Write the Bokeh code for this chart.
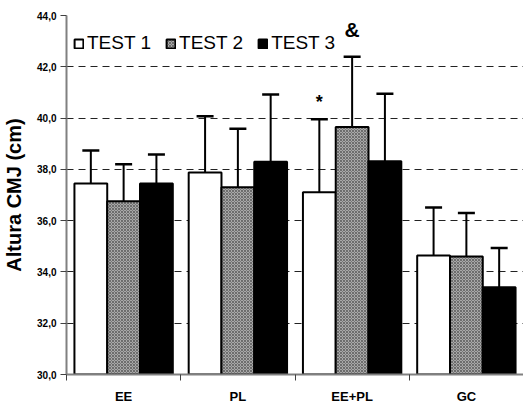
from bokeh.plotting import figure
from bokeh.models import (Range1d, FixedTicker, Whisker, TeeHead, ColumnDataSource,
                          Legend, LegendItem)
from bokeh.embed import file_html
from bokeh.resources import INLINE
from bokeh.core.properties import value

categories = ["EE", "PL", "EE+PL", "GC"]
series = ["TEST 1", "TEST 2", "TEST 3"]
test1 = [37.45, 37.88, 37.11, 34.64]
test2 = [36.76, 37.30, 39.65, 34.60]
test3 = [37.45, 38.30, 38.32, 33.40]
sd1 = [1.29, 2.19, 2.84, 1.87]
sd2 = [1.44, 2.28, 2.74, 1.70]
sd3 = [1.13, 2.62, 2.63, 1.53]
y_ticks = [30, 32, 34, 36, 38, 40, 42, 44]
y_labels = ["30,0", "32,0", "34,0", "36,0", "38,0", "40,0", "42,0", "44,0"]
# significance marks: (category index, series index, symbol)
marks = [(2, 0, "*"), (2, 1, "&")]

FONT = "Liberation Sans"
bw = 0.287
offsets = [-bw, 0.0, bw]

p = figure(width=515, height=397, output_backend="svg", toolbar_location=None,
           x_range=Range1d(0, len(categories)), y_range=Range1d(y_ticks[0], y_ticks[-1]),
           min_border_left=57, min_border_right=2, min_border_top=15, min_border_bottom=22)
p.frame_width = 457
p.frame_height = 359
p.outline_line_color = None
p.background_fill_color = "white"

# grid
p.xgrid.grid_line_color = None
p.ygrid.ticker = FixedTicker(ticks=y_ticks)
p.ygrid.grid_line_color = "#222222"
p.ygrid.grid_line_dash = "7 5"
p.ygrid.grid_line_width = 1

# y axis
p.yaxis.ticker = FixedTicker(ticks=y_ticks)
p.yaxis.major_label_overrides = {t: l for t, l in zip(y_ticks, y_labels)}
p.yaxis.major_label_text_font = FONT
p.yaxis.major_label_text_font_style = "bold"
p.yaxis.major_label_text_font_size = "10px"
p.yaxis.major_label_text_color = "black"
p.yaxis.axis_line_color = "#808080"
p.yaxis.axis_line_width = 2
p.yaxis.major_tick_line_color = "#404040"
p.yaxis.major_tick_in = 0
p.yaxis.major_tick_out = 6
p.yaxis.minor_tick_line_color = None
p.yaxis.major_label_standoff = 4
p.yaxis.axis_label = "Altura CMJ (cm)"
p.yaxis.axis_label_text_font = FONT
p.yaxis.axis_label_text_font_style = "bold"
p.yaxis.axis_label_text_font_size = "20px"
p.yaxis.axis_label_text_color = "black"
p.yaxis.axis_label_standoff = 9

# x axis: labels at centers, ticks at boundaries
centers = [i + 0.5 for i in range(len(categories))]
p.xaxis.ticker = FixedTicker(ticks=centers, minor_ticks=list(range(len(categories) + 1)))
p.xaxis.major_label_overrides = {c: n for c, n in zip(centers, categories)}
p.xaxis.major_tick_line_color = None
p.xaxis.minor_tick_line_color = "#404040"
p.xaxis.minor_tick_in = 0
p.xaxis.minor_tick_out = 6
p.xaxis.axis_line_color = "#808080"
p.xaxis.axis_line_width = 2
p.xaxis.major_label_text_font = FONT
p.xaxis.major_label_text_font_style = "bold"
p.xaxis.major_label_text_font_size = "13px"
p.xaxis.major_label_text_color = "black"
p.xaxis.major_label_standoff = 8

styles = [
    dict(fill_color="white"),
    dict(fill_color="#a8a8a8", hatch_pattern="diagonal_cross", hatch_scale=3,
         hatch_color="#444444", hatch_weight=0.6),
    dict(fill_color="black"),
]
vals = [test1, test2, test3]
sds = [sd1, sd2, sd3]
renderers = []
for k in range(3):
    xs = [i + 0.5 + offsets[k] for i in range(len(categories))]
    src = ColumnDataSource(dict(x=xs, top=vals[k],
                                upper=[v + s for v, s in zip(vals[k], sds[k])]))
    r = p.vbar(x="x", top="top", bottom=y_ticks[0], width=bw, source=src,
               line_color="black", line_width=2, **styles[k])
    renderers.append(r)
    w = Whisker(base="x", lower="top", upper="upper", source=src, dimension="height",
                line_color="black", line_width=2,
                upper_head=TeeHead(size=17, line_width=2.5, line_color="black"),
                lower_head=None)
    p.add_layout(w)

# significance marks
for ci, si, sym in marks:
    x = ci + 0.5 + offsets[si]
    y = vals[si][ci] + sds[si][ci]
    big = sym == "&"
    p.text(x=[x], y=[y + (0.62 if big else 0.3)], text=[sym], text_font=value(FONT),
           text_font_style="bold", text_font_size="21px" if big else "18px",
           text_align="center", text_baseline="bottom", text_color="black")

legend = Legend(items=[LegendItem(label=s, renderers=[r]) for s, r in zip(series, renderers)],
                orientation="horizontal", location=(7, 320))
legend.background_fill_alpha = 0
legend.border_line_color = None
legend.padding = 0
legend.margin = 0
legend.spacing = 14
legend.glyph_width = 11
legend.glyph_height = 11
legend.label_height = 11
legend.label_standoff = 3
legend.label_text_font = FONT
legend.label_text_font_size = "19px"
legend.label_text_color = "black"
p.add_layout(legend, "center")

open("out.html", "w").write(file_html(p, INLINE))
